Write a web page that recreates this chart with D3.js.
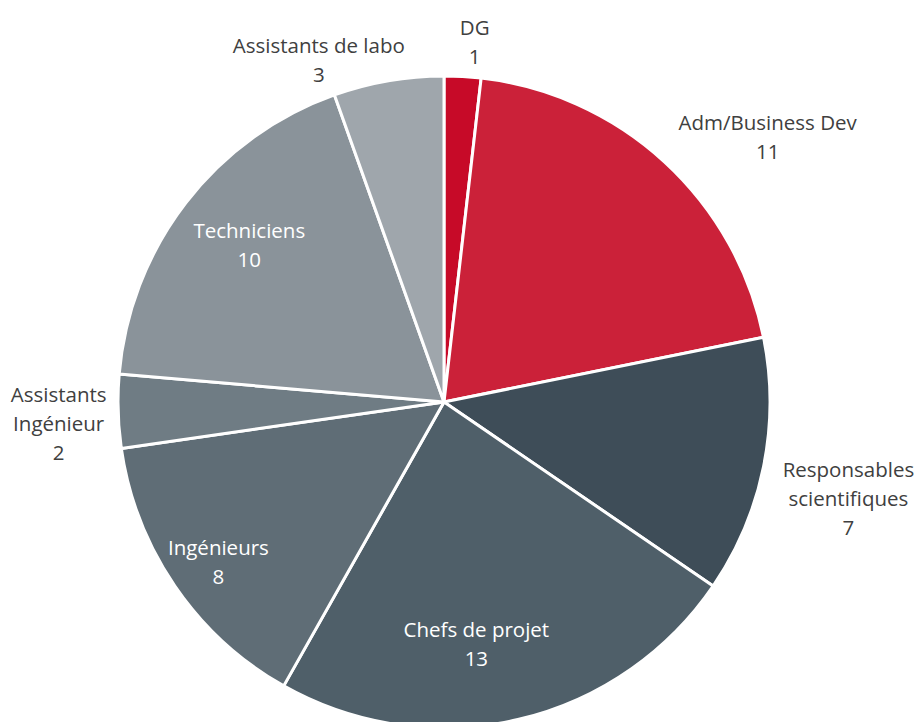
<!DOCTYPE html>
<html><head><meta charset="utf-8">
<script src="https://cdn.jsdelivr.net/npm/d3@7"></script>
<style>
html,body{margin:0;padding:0;background:#fff;overflow:hidden;}
svg{display:block;}
text{font-family:"Open Sans",Lato,sans-serif;font-size:20.5px;}
</style></head>
<body>
<svg id="chart" width="919" height="722"></svg>
<script>
// Data
const categories = ["DG","Adm/Business Dev","Responsables scientifiques","Chefs de projet","Ingénieurs","Assistants Ingénieur","Techniciens","Assistants de labo"];
const values = [1, 11, 7, 13, 8, 2, 10, 3];
const labelLines = [["DG"],["Adm/Business Dev"],["Responsables","scientifiques"],["Chefs de projet"],["Ingénieurs"],["Assistants","Ingénieur"],["Techniciens"],["Assistants de labo"]];

// Styles / layout
const colors = ["#C70A28","#CB2139","#3E4D58","#4F5F69","#5F6D76","#6F7C84","#8A939A","#9FA6AC"];
const labelInside = [false,false,false,true,true,false,true,false];
// label placement: angle nudge (deg) and radius (px)
const labelNudge = [1.6, 8.2, 2.1, 5.5, -1.1, -1.7, 1.2, -10.3];
const labelRadius = [361, 418, 416, 245, 277, 386, 250, 364];

const cx = 444, cy = 402, R = 326;
const svg = d3.select("#chart");
const g = svg.append("g").attr("transform", `translate(${cx},${cy})`);

const data = categories.map((c,i)=>({name:c, value:values[i], i}));
const pie = d3.pie().value(d=>d.value).sort(null);
const arcs = pie(data);
const arc = d3.arc().innerRadius(0).outerRadius(R);

g.selectAll("path").data(arcs).enter().append("path")
  .attr("d", arc)
  .attr("fill", d=>colors[d.data.i])
  .attr("stroke", "#fff")
  .attr("stroke-width", 3)
  .attr("stroke-linejoin", "round");

const lineH = 29;
arcs.forEach(a=>{
  const i = a.data.i;
  const mid = (a.startAngle + a.endAngle)/2 + labelNudge[i]*Math.PI/180;
  const r = labelRadius[i];
  const x = r*Math.sin(mid), y = -r*Math.cos(mid);
  const lines = labelLines[i].concat([String(values[i])]);
  const n = lines.length;
  const t = g.append("text")
    .attr("text-anchor","middle")
    .attr("fill", labelInside[i] ? "#ffffff" : "#404040");
  lines.forEach((ln,k)=>{
    t.append("tspan").attr("x", x)
      .attr("y", y + (k - (n-1)/2)*lineH + 7)
      .text(ln);
  });
});
</script>
</body></html>
